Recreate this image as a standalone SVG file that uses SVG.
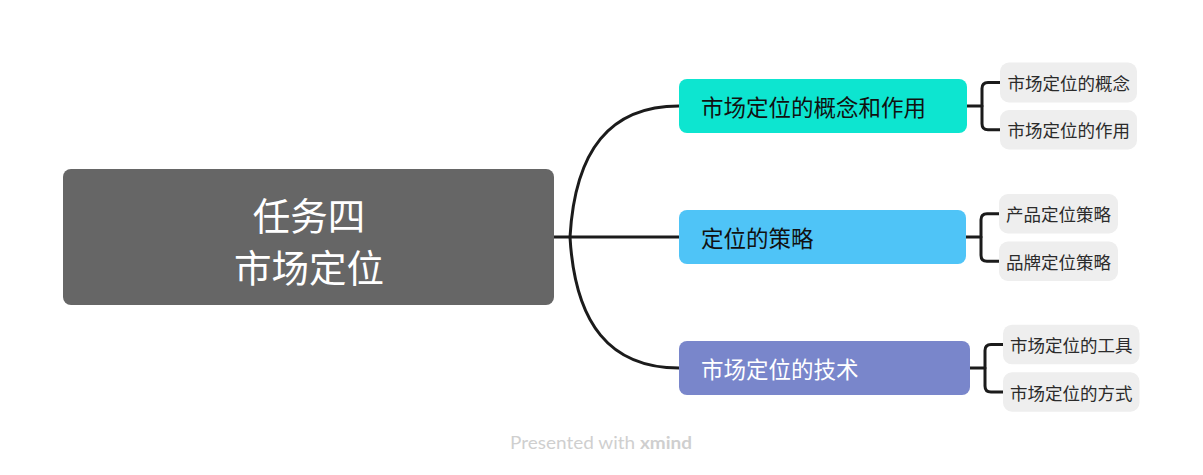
<svg xmlns="http://www.w3.org/2000/svg" width="1203" height="475" viewBox="0 0 1203 475">
<style>
.cn{font-family:"Noto Sans CJK SC","Noto Sans",sans-serif;dominant-baseline:central}
.root{font-size:37.5px;fill:#ffffff;text-anchor:middle}
.main{font-size:22.5px}
.sub{font-size:17.5px;fill:#2b2b2b}
.subbox{fill:#eeeeee}
.conn{fill:none;stroke:#1b1b1b;stroke-width:3;stroke-linecap:round}
</style>
<rect width="1203" height="475" fill="#ffffff"/>
<g id="connectors">
<path class="conn" d="M554 237 H679"/>
<path class="conn" d="M570 237 C575 150 610 106 679 106"/>
<path class="conn" d="M570 237 C575 324 610 368 679 368"/>
<path class="conn" d="M967 106 H982"/>
<path class="conn" d="M1000 82.5 H988 Q982 82.5 982 88.5 V123.7 Q982 129.7 988 129.7 H1000"/>
<path class="conn" d="M966 237 H981"/>
<path class="conn" d="M999 213.7 H987 Q981 213.7 981 219.7 V255.2 Q981 261.2 987 261.2 H999"/>
<path class="conn" d="M970 368 H985"/>
<path class="conn" d="M1003 344.5 H991 Q985 344.5 985 350.5 V386 Q985 392 991 392 H1003"/>
</g>
<g id="root">
<rect x="63" y="169" width="491" height="136" rx="8" fill="#666666"/>
<text class="cn root" x="309" y="213">任务四</text>
<text class="cn root" x="309" y="265">市场定位</text>
</g>
<g id="node1">
<rect x="679" y="79" width="288" height="54" rx="8" fill="#0de5d0"/>
<text class="cn main" x="701" y="106" fill="#111111">市场定位的概念和作用</text>
</g>
<g id="node2">
<rect x="679" y="210" width="287" height="54" rx="8" fill="#4fc4f7"/>
<text class="cn main" x="701" y="237" fill="#111111">定位的策略</text>
</g>
<g id="node3">
<rect x="679" y="341" width="291" height="54" rx="8" fill="#7986cb"/>
<text class="cn main" x="701" y="368" fill="#ffffff">市场定位的技术</text>
</g>
<g id="sub1a">
<rect class="subbox" x="1000" y="62.5" width="137" height="40" rx="9"/>
<text class="cn sub" x="1007.5" y="82.5">市场定位的概念</text>
</g>
<g id="sub1b">
<rect class="subbox" x="1000" y="110" width="137" height="39.5" rx="9"/>
<text class="cn sub" x="1007.5" y="129.7">市场定位的作用</text>
</g>
<g id="sub2a">
<rect class="subbox" x="999" y="194" width="119" height="39.5" rx="9"/>
<text class="cn sub" x="1006" y="213.7">产品定位策略</text>
</g>
<g id="sub2b">
<rect class="subbox" x="999" y="241.5" width="119" height="39.5" rx="9"/>
<text class="cn sub" x="1006" y="261.2">品牌定位策略</text>
</g>
<g id="sub3a">
<rect class="subbox" x="1003" y="324.7" width="136.5" height="39.6" rx="9"/>
<text class="cn sub" x="1010" y="344.5">市场定位的工具</text>
</g>
<g id="sub3b">
<rect class="subbox" x="1003" y="372.3" width="136.5" height="39.4" rx="9"/>
<text class="cn sub" x="1010" y="392">市场定位的方式</text>
</g>
<text x="601" y="449" text-anchor="middle" font-family="Lato,'Open Sans',sans-serif" font-size="17" fill="#cfcfcf" textLength="182" lengthAdjust="spacingAndGlyphs">Presented with <tspan font-weight="bold">xmind</tspan></text>
</svg>
